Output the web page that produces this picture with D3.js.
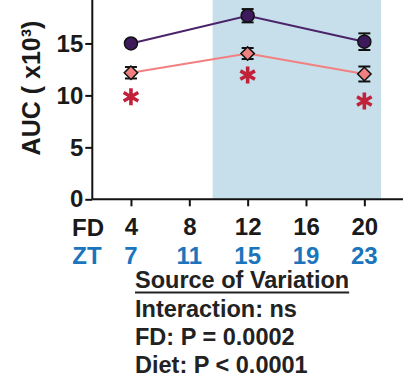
<!DOCTYPE html>
<html>
<head>
<meta charset="utf-8">
<script src="https://cdn.jsdelivr.net/npm/d3@7"></script>
<style>
  html, body { margin: 0; padding: 0; background: #fff; }
  svg { display: block; }
  text { font-family: "Liberation Sans", Arial, sans-serif; font-weight: bold; }
</style>
</head>
<body>
<svg id="chart" width="403" height="379"></svg>
<script>
// Feeding duration (FD, h) and matching circadian time (ZT)
const fdTicks = [4, 8, 12, 16, 20];
const ztLabels = ["7", "11", "15", "19", "23"];
const yTicks = [0, 5, 10, 15, 20];

// Measured time points
const fdPoints = [4, 12, 20];

// AUC (x10^3), mean and SEM, per diet
const chowMean = [15.0, 17.67, 15.17];
const chowSem  = [0.3, 0.64, 0.8];
const hfdMean  = [12.18, 14.03, 12.06];
const hfdSem   = [0.55, 0.53, 0.72];

// Significance marks (y position in data units)
const starY = [9.87, 11.96, 9.46];

// Dark phase band (FD units)
const darkBand = [9.6, 21.15];

const statLines = ["Interaction: ns", "FD: P = 0.0002", "Diet: P < 0.0001"];

const svg = d3.select("#chart");

const x = d3.scaleLinear().domain([1.35, 22.65]).range([92.3, 403]);
const y = d3.scaleLinear().domain([0, 20]).range([199.3, -8.5]);

// dark-phase shading
svg.append("rect")
  .attr("x", x(darkBand[0]))
  .attr("y", -20)
  .attr("width", x(darkBand[1]) - x(darkBand[0]))
  .attr("height", y(0) + 20)
  .attr("fill", "#c6dfea");

// axes
const yAxis = svg.append("g")
  .attr("transform", `translate(${x.range()[0]},0)`)
  .call(d3.axisLeft(y).tickValues(yTicks).tickSize(7).tickPadding(2).tickFormat(d3.format("d")));
const xAxis = svg.append("g")
  .attr("transform", `translate(0,${y(0)})`)
  .call(d3.axisBottom(x).tickValues(fdTicks).tickSize(7).tickPadding(12).tickFormat(d3.format("d")));

[yAxis, xAxis].forEach(g => {
  g.select(".domain").attr("stroke", "#111").attr("stroke-width", 2);
  g.selectAll(".tick line").attr("stroke", "#111").attr("stroke-width", 2);
  g.selectAll(".tick text").attr("fill", "#1a1a1a").attr("font-size", 24);
});
yAxis.select(".domain").attr("d", `M0,${y(0)}V-20`);
xAxis.select(".domain").attr("d", `M${x.range()[0]},0H${x.range()[1] + 5}`);
xAxis.selectAll(".tick text").attr("dy", "0.71em");

// row titles
svg.append("text").attr("x", 88).attr("y", 235.5).attr("text-anchor", "middle")
  .attr("font-size", 24).attr("fill", "#1a1a1a").text("FD");
svg.append("text").attr("x", 87).attr("y", 264).attr("text-anchor", "middle")
  .attr("font-size", 24).attr("fill", "#1b75bc").text("ZT");

// ZT tick labels
svg.append("g").selectAll("text").data(fdTicks).join("text")
  .attr("x", d => x(d)).attr("y", 264).attr("text-anchor", "middle")
  .attr("font-size", 24).attr("fill", "#1b75bc")
  .text((d, i) => ztLabels[i]);

// y axis title
svg.append("text")
  .attr("transform", `translate(40,88) rotate(-90)`)
  .attr("text-anchor", "middle").attr("font-size", 25).attr("fill", "#1a1a1a")
  .text("AUC ( x10³)");

// lines
const line = d3.line().x((d, i) => x(fdPoints[i])).y(d => y(d));
svg.append("path").datum(chowMean).attr("d", line)
  .attr("fill", "none").attr("stroke", "#4a2468").attr("stroke-width", 2);
svg.append("path").datum(hfdMean).attr("d", line)
  .attr("fill", "none").attr("stroke", "#f38080").attr("stroke-width", 2);

// error bars
function errorBars(means, sems) {
  const g = svg.append("g").attr("stroke", "#111").attr("stroke-width", 2);
  means.forEach((m, i) => {
    const cx = x(fdPoints[i]);
    const top = y(m + sems[i]), bot = y(m - sems[i]);
    g.append("line").attr("x1", cx).attr("x2", cx).attr("y1", top).attr("y2", bot);
    g.append("line").attr("x1", cx - 6).attr("x2", cx + 6).attr("y1", top).attr("y2", top);
    g.append("line").attr("x1", cx - 6).attr("x2", cx + 6).attr("y1", bot).attr("y2", bot);
  });
}
errorBars(chowMean, chowSem);
errorBars(hfdMean, hfdSem);

// markers
svg.append("g").selectAll("circle").data(chowMean).join("circle")
  .attr("cx", (d, i) => x(fdPoints[i])).attr("cy", d => y(d)).attr("r", 6.5)
  .attr("fill", "#3d1a5c").attr("stroke", "#111").attr("stroke-width", 1.5);
svg.append("g").selectAll("path").data(hfdMean).join("path")
  .attr("d", d3.symbol(d3.symbolSquare, 90))
  .attr("transform", (d, i) => `translate(${x(fdPoints[i])},${y(d)}) rotate(45)`)
  .attr("fill", "#f08080").attr("stroke", "#111").attr("stroke-width", 1.5);

// significance asterisks
svg.append("g").selectAll("path").data(starY).join("path")
  .attr("d", d3.symbol(d3.symbolAsterisk, 200))
  .attr("transform", (d, i) => `translate(${x(fdPoints[i])},${y(d)})`)
  .attr("fill", "none").attr("stroke", "#c1223a").attr("stroke-width", 3.6);

// statistics block
const stats = svg.append("g").attr("fill", "#222");
const head = stats.append("text").attr("x", 135).attr("y", 288).attr("fill", "#222")
  .attr("font-size", 23.5).text("Source of Variation");
const hw = head.node().getComputedTextLength();
stats.append("line").attr("x1", 135).attr("x2", 135 + hw).attr("y1", 292.5).attr("y2", 292.5)
  .attr("stroke", "#222").attr("stroke-width", 2);
stats.selectAll("text.stat").data(statLines).join("text").attr("class", "stat")
  .attr("x", 135).attr("y", (d, i) => 317 + i * 28)
  .attr("font-size", 23.5).attr("fill", "#222").text(d => d);
</script>
</body>
</html>
